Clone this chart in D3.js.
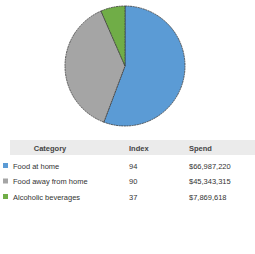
<!DOCTYPE html>
<html>
<head>
<meta charset="utf-8">
<script src="https://cdn.jsdelivr.net/npm/d3@7"></script>
<style>
  body { margin: 0; background: #fff; }
  text { font-family: "Liberation Sans Narrow", "Liberation Sans", sans-serif; font-size: 7.5px; fill: #333; }
</style>
</head>
<body>
<div id="chart"></div>
<script>
var svgWidth = 255;
var svgHeight = 254;

// data
var categories = ["Food at home", "Food away from home", "Alcoholic beverages"];
var indexValues = [94, 90, 37];
var spendValues = [66987220, 45343315, 7869618];
var colors = ["#5b9bd5", "#a5a5a5", "#70ad47"];
var headers = ["Category", "Index", "Spend"];

var svg = d3.select("#chart")
    .append("svg")
    .attr("width", svgWidth)
    .attr("height", svgHeight);

// pie
var data = categories.map((c, i) => ({ name: c, index: indexValues[i], spend: spendValues[i], color: colors[i] }));

var pie = d3.pie().sort(null).value(d => d.spend);
var arc = d3.arc().innerRadius(0).outerRadius(60);

var pieGroup = svg.append("g")
    .attr("transform", "translate(125, 66)");

pieGroup.selectAll("path")
    .data(pie(data))
    .enter()
    .append("path")
    .attr("d", arc)
    .attr("fill", d => d.data.color)
    .attr("stroke", "#3a3a3a")
    .attr("stroke-width", 0.8)
    .attr("stroke-dasharray", "2,0.6");

// table
var colX = [50, 129, 189];

svg.append("rect")
    .attr("x", 10)
    .attr("y", 140)
    .attr("width", 245)
    .attr("height", 15)
    .attr("fill", "#ebebeb");

svg.selectAll(".hdr")
    .data(headers)
    .enter()
    .append("text")
    .attr("class", "hdr")
    .attr("x", (d, i) => colX[i])
    .attr("y", 150.5)
    .attr("text-anchor", (d, i) => i == 0 ? "middle" : "start")
    .style("font-weight", "bold")
    .style("fill", "#444")
    .text(d => d);

var rowY = d3.scalePoint()
    .domain(categories)
    .range([168.5, 199.5]);

var rows = svg.selectAll(".row")
    .data(data)
    .enter()
    .append("g")
    .attr("class", "row")
    .attr("transform", d => `translate(0, ${rowY(d.name)})`);

rows.append("rect")
    .attr("x", 3)
    .attr("y", -5.5)
    .attr("width", 5)
    .attr("height", 5)
    .attr("fill", d => d.color);

rows.append("text")
    .attr("x", 13)
    .attr("y", 0)
    .text(d => d.name);

rows.append("text")
    .attr("x", colX[1])
    .attr("y", 0)
    .text(d => d.index);

rows.append("text")
    .attr("x", colX[2])
    .attr("y", 0)
    .text(d => "$" + d3.format(",")(d.spend));
</script>
</body>
</html>
